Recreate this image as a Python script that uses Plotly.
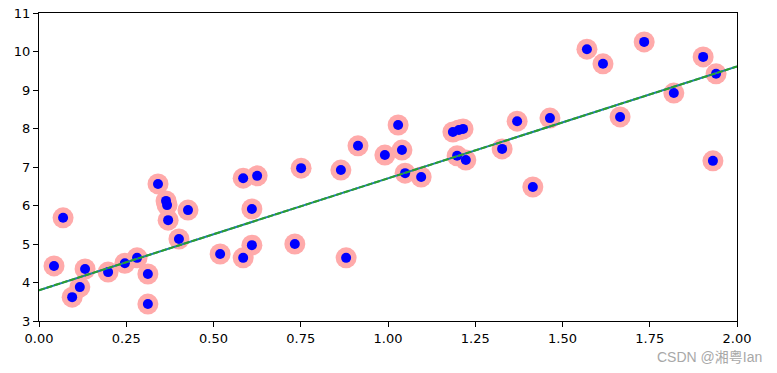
import plotly.graph_objects as go

x_vals = [0.043, 0.069, 0.095, 0.117, 0.132, 0.198, 0.246, 0.281, 0.312, 0.312,
          0.341, 0.364, 0.367, 0.370, 0.401, 0.427, 0.519, 0.585, 0.585, 0.610,
          0.610, 0.625, 0.733, 0.751, 0.865, 0.880, 0.914, 0.991, 1.029, 1.040,
          1.049, 1.095, 1.186, 1.203, 1.215, 1.198, 1.223, 1.327, 1.370, 1.415,
          1.464, 1.570, 1.616, 1.665, 1.734, 1.819, 1.903, 1.940, 1.931]
y_vals = [4.43, 5.68, 3.62, 3.88, 4.35, 4.27, 4.50, 4.64, 4.22, 3.44,
          6.56, 6.12, 6.01, 5.62, 5.13, 5.88, 4.74, 6.71, 4.64, 5.91,
          4.97, 6.77, 5.00, 6.97, 6.92, 4.64, 7.55, 7.31, 8.09, 7.44,
          6.84, 6.74, 7.91, 7.96, 7.99, 7.29, 7.18, 7.47, 8.19, 6.48,
          8.27, 10.06, 9.68, 8.30, 10.25, 8.92, 9.86, 9.42, 7.16]
line_x = [0.0, 2.0]
line_y = [3.80, 9.61]
x_ticks = [0, 0.25, 0.5, 0.75, 1.0, 1.25, 1.5, 1.75, 2.0]
y_ticks = [3, 4, 5, 6, 7, 8, 9, 10, 11]

fig = go.Figure()
fig.add_trace(go.Scatter(x=x_vals, y=y_vals, mode="markers",
                         marker=dict(size=21, color="#ffaaaa", line=dict(width=0))))
fig.add_trace(go.Scatter(x=x_vals, y=y_vals, mode="markers",
                         marker=dict(size=10, color="#0000ff", line=dict(width=0))))
fig.add_trace(go.Scatter(x=line_x, y=line_y, mode="lines",
                         line=dict(color="#1f77b4", width=2)))
fig.add_trace(go.Scatter(x=line_x, y=line_y, mode="lines",
                         line=dict(color="#2ca02c", width=2, dash="6px,2px")))

axis_common = dict(showline=True, linecolor="black", linewidth=1, mirror=True,
                   ticks="outside", ticklen=5, tickcolor="black", showgrid=False,
                   zeroline=False, automargin=False,
                   tickfont=dict(family="DejaVu Sans", size=13, color="black"))
fig.update_xaxes(range=[0, 2], tickvals=x_ticks, ticktext=[f"{v:.2f}" for v in x_ticks], **axis_common)
fig.update_yaxes(range=[3, 11], tickvals=y_ticks, ticktext=[str(v) for v in y_ticks], **axis_common)

fig.add_annotation(text="CSDN @湘粤Ian", xref="paper", yref="paper", x=0.961, y=-0.117,
                   xanchor="center", yanchor="middle", showarrow=False,
                   font=dict(family="Liberation Sans, Noto Sans CJK SC", size=14, color="#a8a8a8"))

fig.update_layout(width=777, height=373, margin=dict(l=39, r=40, t=13, b=52, autoexpand=False),
                  paper_bgcolor="white", plot_bgcolor="white", showlegend=False)
fig.write_html("out.html", config={"displayModeBar": False},
               post_script="document.body.style.margin='0';document.body.style.overflow='hidden';")
